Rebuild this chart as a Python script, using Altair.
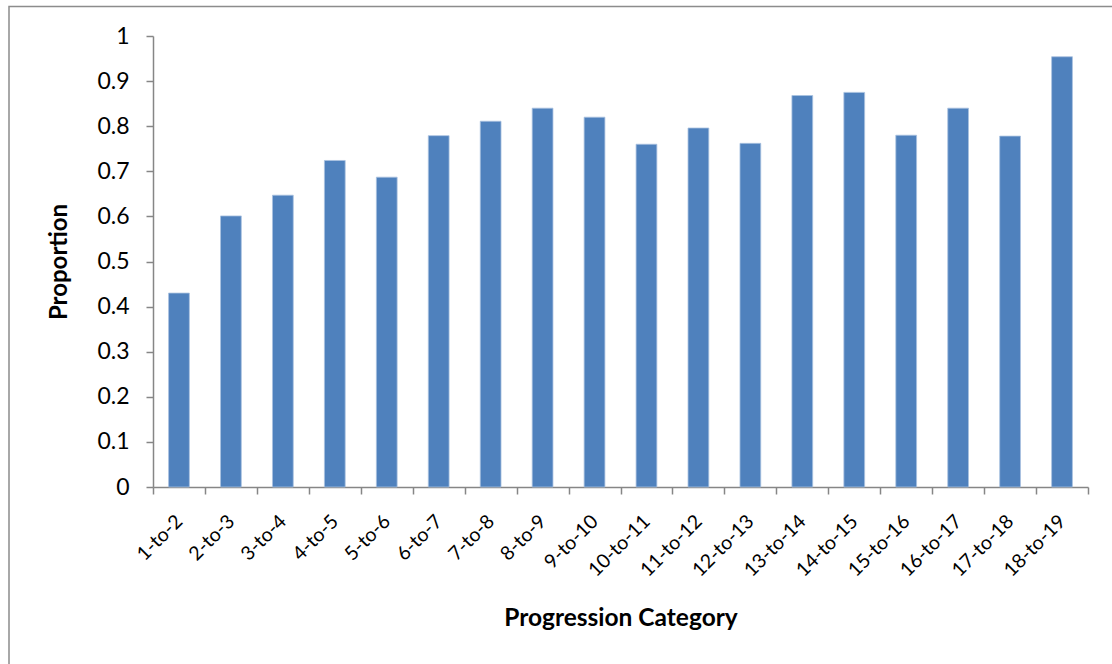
import altair as alt
import pandas as pd

categories = ["1-to-2", "2-to-3", "3-to-4", "4-to-5", "5-to-6", "6-to-7", "7-to-8", "8-to-9",
              "9-to-10", "10-to-11", "11-to-12", "12-to-13", "13-to-14", "14-to-15",
              "15-to-16", "16-to-17", "17-to-18", "18-to-19"]
proportions = [0.430, 0.601, 0.647, 0.724, 0.687, 0.779, 0.811, 0.840,
               0.820, 0.760, 0.796, 0.762, 0.868, 0.875,
               0.780, 0.840, 0.778, 0.954]
y_ticks = [0, 0.1, 0.2, 0.3, 0.4, 0.5, 0.6, 0.7, 0.8, 0.9, 1]

df = pd.DataFrame({"cat": categories, "p": proportions})
frame_df = pd.DataFrame({"a": [0]})

W, H = 935, 451
PL, PT = 153, 36
FONT = "Lato"
AXC = "#868686"

bars = alt.Chart(df).mark_bar(
    width=alt.RelativeBandSize(0.4), color="#4F81BD", stroke="#A9C1DF", strokeWidth=0.8
).encode(
    x=alt.X("cat:N", sort=categories,
            scale=alt.Scale(paddingInner=0, paddingOuter=0),
            axis=alt.Axis(title="Progression Category", labelAngle=-45, labelAlign="right",
                          labelBaseline="middle", labelPadding=24, labelFontSize=19.5,
                          labelFont=FONT, labelColor="#000000",
                          tickBand="extent", tickSize=7, tickColor=AXC, tickWidth=1.5,
                          domainColor=AXC, domainWidth=1.5,
                          titleFont=FONT, titleFontSize=24.5, titleFontWeight="bold",
                          titleColor="#000000", titleX=W / 2, titleY=131,
                          titleBaseline="middle", titleAlign="center")),
    y=alt.Y("p:Q", scale=alt.Scale(domain=[0, 1], nice=False),
            axis=alt.Axis(title="Proportion", values=y_ticks, format="~g", grid=False,
                          labelFontSize=23, labelFont=FONT, labelColor="#000000",
                          labelPadding=17, tickSize=7, tickColor=AXC, tickWidth=1.5,
                          domainColor=AXC, domainWidth=1.5,
                          titleFont=FONT, titleFontSize=24, titleFontWeight="bold",
                          titleColor="#000000", titleX=-94, titleY=H / 2,
                          titleAngle=-90, titleBaseline="middle", titleAlign="center")),
)

frame = alt.Chart(frame_df).mark_rect(
    fillOpacity=0, stroke="#8C8C8C", strokeWidth=1.5
).encode(
    x=alt.value(9 - PL), x2=alt.value(1112 - PL + 20),
    y=alt.value(6.5 - PT), y2=alt.value(700),
)

chart = alt.layer(frame, bars).properties(
    width=W, height=H,
    autosize=alt.AutoSizeParams(type="none"),
    padding={"left": PL, "top": PT, "right": 1112 - PL - W, "bottom": 664 - PT - H},
    background="white",
).configure_view(stroke=None)

chart.save("out.html", embed_options={"renderer": "svg", "actions": False})
